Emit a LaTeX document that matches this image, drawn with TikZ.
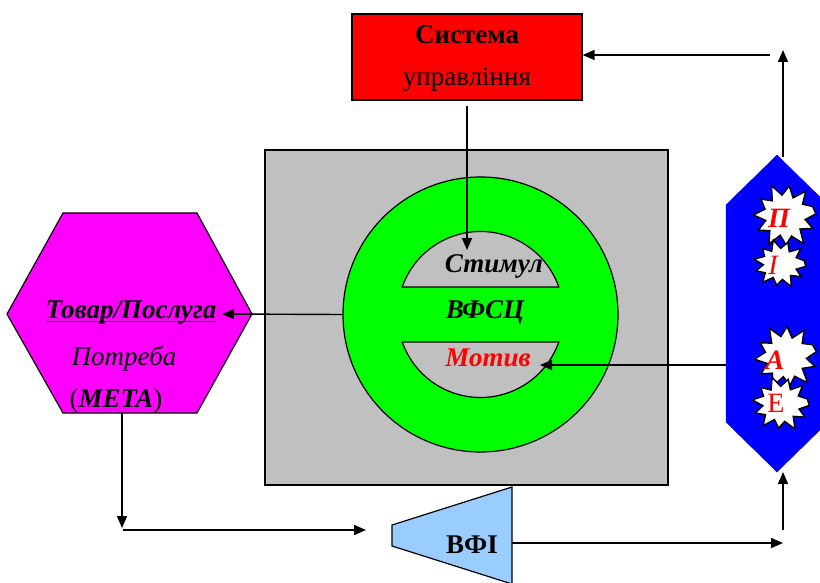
\documentclass[tikz,border=0pt]{standalone}
\usepackage{fontspec}
\setmainfont{Liberation Serif}
\usetikzlibrary{shapes.geometric,arrows.meta,calc}
\definecolor{framegray}{HTML}{C0C0C0}
\definecolor{wheelgreen}{HTML}{00FF00}
\definecolor{goalpink}{HTML}{FF00FF}
\definecolor{ctrlred}{HTML}{FF0000}
\definecolor{factorblue}{HTML}{0000FF}
\definecolor{vfiblue}{HTML}{99CCFF}
\newcommand{\bigtxt}{\fontsize{27}{31}\selectfont}
\newcommand{\burstfont}{\fontsize{28}{30}\selectfont}
% underline drawn just below the baseline, crossing the descenders
\newcommand{\lowrule}[1]{\setbox0\hbox{#1}\rlap{\raisebox{-3.2pt}{\rule{\wd0}{1.6pt}}}\box0}
\tikzset{
  outline/.style={draw=black, line width=1.2pt},
  link/.style={draw=black, line width=1.4pt, -{Triangle[length=12pt,width=10pt]}},
  txt/.style={font=\bigtxt, inner sep=0pt},
  burstletter/.style={text=ctrlred, inner sep=0pt},
  pics/burst/.style={code={
    \draw[draw=black, line width=1.4pt, fill=white, line join=miter]
      (0:1) -- (14:0.66) -- (28:0.98) -- (45:0.64) -- (60:1.08) -- (76:0.68)
      -- (92:0.93) -- (108:0.64) -- (124:1.04) -- (140:0.68) -- (156:0.97)
      -- (171:0.64) -- (186:1.02) -- (203:0.68) -- (219:0.95) -- (234:0.64)
      -- (250:1.07) -- (266:0.68) -- (282:0.98) -- (298:0.64) -- (314:1.04)
      -- (330:0.68) -- (345:0.94) -- cycle;}},
}
\begin{document}
\begin{tikzpicture}[x=1pt,y=-1pt]
\useasboundingbox (0,0) rectangle (820,583);

% management system box
\node[outline, fill=ctrlred, minimum width=230pt, minimum height=86pt, inner sep=0pt] (ctrl) at (467,57) {};
\node[txt, font=\bigtxt\bfseries] (ctrlA) at (467,35) {Система};
\node[txt] (ctrlB) at (467,79) {управління};

% grey frame
\node[outline, fill=framegray, minimum width=403pt, minimum height=335pt, inner sep=0pt] (frame) at (466.5,317.5) {};

% green wheel with two grey segments
\node[circle, outline, fill=wheelgreen, minimum size=275pt, inner sep=0pt] (wheel) at (480.5,314.5) {};
\coordinate (wc) at (480.5,314.5);
\draw[outline, fill=framegray] ($(wc)+(-19.35:83)$) arc[start angle=-19.35, end angle=-160.65, radius=83] -- cycle;
\draw[outline, fill=framegray] ($(wc)+(19.35:83)$) arc[start angle=19.35, end angle=160.65, radius=83] -- cycle;
\node[txt, font=\bigtxt\bfseries\itshape] (stim) at (494,266) {Стимул};
\node[txt, font=\bigtxt\bfseries\itshape] (vfsc) at (485,312) {ВФСЦ};
\node[txt, text=ctrlred, font=\bigtxt\bfseries\itshape] (motiv) at (488,358) {Мотив};

% goal hexagon
\draw[outline, fill=goalpink] (63,213) -- (197,213) -- (252,314) -- (197,413) -- (63,413) -- (7,314) -- cycle;
\node[txt, font=\bigtxt\bfseries\itshape] (goods) at (131,313) {\lowrule{Товар/Послуга}};
\node[txt, font=\bigtxt\itshape] (need) at (124,359) {Потреба};
\node[txt] (goal) at (116,401) {(\textbf{\textit{МЕТА}})};
\coordinate (hexbot) at (122,413);

% factor column with bursts
\draw[fill=factorblue, draw=factorblue] (777,155) -- (828,205) -- (828,422) -- (777,472) -- (726,422) -- (726,205) -- cycle;
\coordinate (colW) at (726,365);
\coordinate (colTop) at (783,157);
\coordinate (colBot) at (783,472);
\pic[xscale=31, yscale=31, rotate=4] (bP) at (785,216) {burst};
\pic[xscale=26, yscale=23, rotate=-6] (bI) at (780,264) {burst};
\pic[xscale=31, yscale=31, rotate=10] (bA) at (786,357) {burst};
\pic[xscale=28.5, yscale=26, rotate=-3] (bE) at (781,404) {burst};
\node[burstletter, font=\burstfont\bfseries\itshape] (lP) at (779,218) {П};
\node[burstletter, font=\burstfont\itshape] (lI) at (773,265) {І};
\node[burstletter, font=\burstfont\bfseries\itshape] (lA) at (775,360) {А};
\node[burstletter, font=\burstfont] (lE) at (776,403) {Е};

% VFI trapezoid
\draw[outline, fill=vfiblue] (392,525) -- (512,487) -- (512,584) -- (392,546) -- cycle;
\node[txt, font=\bigtxt\bfseries] (vfi) at (472,545) {ВФІ};
\coordinate (vfiE) at (512,543);

% helper points for the connectors
\coordinate (ctrlOut) at (467,106);
\coordinate (stimTip) at (467,250);
\coordinate (motivTip) at (540,365);
\coordinate (goodsTip) at (222,314);
\coordinate (upTip) at (783,50);
\coordinate (retStart) at (770,55);
\coordinate (ctrlIn) at (ctrl.east |- retStart);
\coordinate (downTip) at (122,528);
\coordinate (rightStart) at (123,530);
\coordinate (rightTip) at (366,530);
\coordinate (vfiTip) at (783,543);
\coordinate (upStart) at (783,530);

% connectors
\draw[link] (ctrlOut) -- (stimTip);
\draw[link] (wheel.west) -- (goodsTip);
\draw[link] (colW) -- (motivTip);
\draw[link] (colTop) -- (upTip);
\draw[link] (retStart) -- (ctrlIn);
\draw[link] (hexbot) -- (downTip);
\draw[link] (rightStart) -- (rightTip);
\draw[link] (vfiE) -- (vfiTip);
\draw[link] (upStart) -- (colBot);
\end{tikzpicture}
\end{document}
